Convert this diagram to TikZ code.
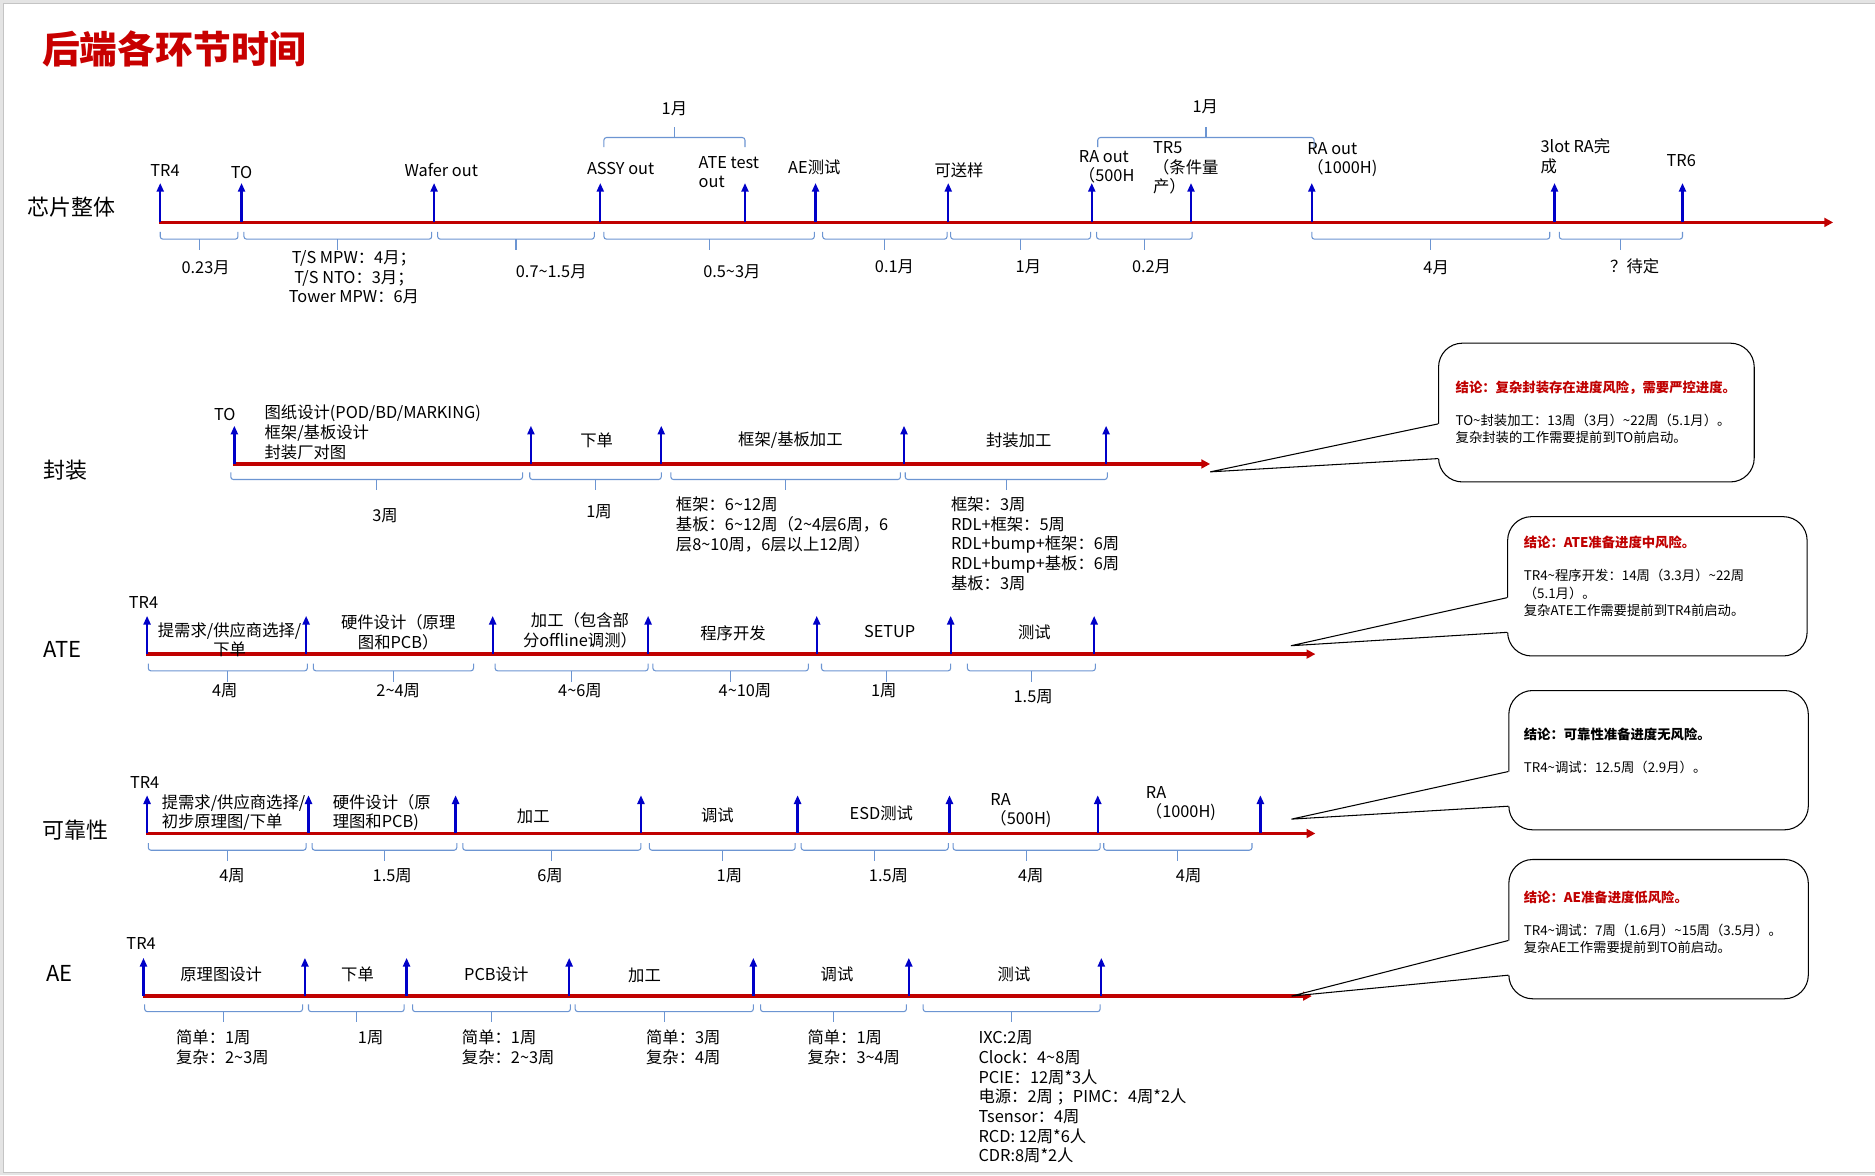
\documentclass[tikz,border=0pt]{standalone}
\usepackage{fontspec}
\setmainfont{Noto Sans CJK SC}
\usepackage{xcolor}
\usepackage{tikz}
\usetikzlibrary{arrows.meta,calc}

\definecolor{tlred}{HTML}{C00000}
\definecolor{msblue}{HTML}{0000C8}
\definecolor{brblue}{HTML}{6C95D2}
\definecolor{ttlred}{HTML}{C80000}
\definecolor{framegray}{HTML}{E4E4E4}
\definecolor{framedark}{HTML}{C4C4C4}

\newcommand{\wave}{\textasciitilde}
% bracket under a span: x1, x2, y of its top ends
\newcommand{\brdown}[3]{%
  \draw[brc] (#1,#3) -- (#1,#3+6) -- (#2,#3+6) -- (#2,#3);
  \draw[brc] ({(#1+#2)/2},#3+6) -- ({(#1+#2)/2},#3+15);}
% bracket over a span: x1, x2, y of its bottom ends
\newcommand{\brup}[3]{%
  \draw[brc] (#1,#3) -- (#1,#3-8) -- (#2,#3-8) -- (#2,#3);
  \draw[brc] ({(#1+#2)/2},#3-8) -- ({(#1+#2)/2},#3-17);}

\begin{document}
\begin{tikzpicture}[x=0.02392cm, y=-0.02392cm,
    tl/.style={draw=tlred, line width=1.9pt, -{Triangle[length=5pt,width=5pt]}},
    ms/.style={draw=msblue, line width=1.3pt, -{Triangle[length=5pt,width=4pt]}},
    brc/.style={draw=brblue, line width=0.6pt, rounded corners=1.5pt},
    lbl/.style={font=\fontsize{9.3}{11.2}\selectfont, inner sep=0pt},
    row/.style={font=\fontsize{12.5}{15}\selectfont, inner sep=0pt},
    callout/.style={draw, fill=white, line width=0.6pt, rounded corners=13.6pt,
                    minimum width=170.5pt, minimum height=79.3pt},
    note/.style={font=\fontsize{7.6}{9.8}\selectfont, inner sep=0pt, align=left, anchor=west},
    ptr/.style={draw, line width=0.6pt}]
  \useasboundingbox (0,0) rectangle (1568,983);
  \fill[framegray] (0,0) rectangle (1568,983);
  \fill[white] (2.5,2.5) rectangle (1568,980.5);
  \draw[framedark, line width=0.4pt] (1568,2.5) -- (2.5,2.5) -- (2.5,980.5) -- (1568,980.5);

  \node[anchor=west, inner sep=0pt, text=ttlred,
        font=\fontsize{21.5}{26}\selectfont\bfseries] (title) at (35,41) {后端各环节时间};

  % chip
  \node[row] (chiplbl) at (60,173) {芯片整体};
  \coordinate (chipS) at (133,186);
  \coordinate (chipE) at (1533,186);
  \draw[tl] (chipS) -- (chipE);
  \foreach \x [count=\i] in {134,202,363,502,623,682,793,913,996,1097,1300,1407} {
    \coordinate (chip\i) at (\x,186);
    \coordinate (chipt\i) at (\x,153);
    \draw[ms] (chip\i) -- (chipt\i);
  }
  \node[lbl] (chiptr4) at (138,143) {TR4};
  \node[lbl] (chipto) at (202,144) {TO};
  \node[lbl] (wafer) at (369,142) {Wafer out};
  \node[lbl] (assy) at (519,141) {ASSY out};
  \node[lbl, anchor=west, align=left] (atetest) at (584,144) {ATE test\\out};
  \node[lbl] (aetest) at (681,140) {AE测试};
  \node[lbl] (sample) at (802,142) {可送样};
  \node[lbl, anchor=west, align=left] (ra500) at (902,139.5) {RA out\\（500H};
  \node[lbl, anchor=west, align=left] (tr5) at (964,140.5) {TR5\\（条件量\\产）};
  \node[lbl, anchor=west, align=left] (ra1000) at (1093,133.5) {RA out\\（1000H)};
  \node[lbl, anchor=west, align=left] (ra3lot) at (1288,130.5) {3lot RA完\\成};
  \node[lbl] (tr6) at (1406,134) {TR6};
  \brup{505}{623}{123}
  \brup{918}{1099}{123}
  \node[lbl] (up1) at (564,91) {1月};
  \node[lbl] (up2) at (1008,89) {1月};
  \brdown{134}{199}{194}
  \brdown{204}{361}{194}
  \brdown{366}{497}{194}
  \brdown{505}{681}{194}
  \brdown{688}{792}{194}
  \brdown{795}{912}{194}
  \brdown{917}{997}{194}
  \brdown{1097}{1296}{194}
  \brdown{1304}{1407}{194}
  \node[lbl] (d1) at (172,224) {0.23月};
  \node[lbl, align=center] (d2) at (296,232) {T/S MPW：4月；\\T/S NTO：3月；\\Tower MPW：6月};
  \node[lbl] (d3) at (461,227) {0.7\wave 1.5月};
  \node[lbl] (d4) at (612,227) {0.5\wave 3月};
  \node[lbl] (d5) at (748,223) {0.1月};
  \node[lbl] (d6) at (860,223) {1月};
  \node[lbl] (d7) at (963,223) {0.2月};
  \node[lbl] (d8) at (1201,224) {4月};
  \node[lbl] (d9) at (1367,223) {？待定};

  % package
  \node[row] (pkglbl) at (55,393) {封装};
  \coordinate (pkgS) at (195,388);
  \coordinate (pkgE) at (1012,388);
  \draw[tl] (pkgS) -- (pkgE);
  \foreach \x [count=\i] in {196,444,553,756,925} {
    \coordinate (pkg\i) at (\x,388);
    \coordinate (pkgt\i) at (\x,356);
    \draw[ms] (pkg\i) -- (pkgt\i);
  }
  \node[lbl] (pkgto) at (188,347) {TO};
  \node[lbl, anchor=west, align=left] (pkgdraw) at (221,361.5) {图纸设计(POD/BD/MARKING)\\框架/基板设计\\封装厂对图};
  \node[lbl] (pkgord) at (499,368) {下单};
  \node[lbl] (pkgsub) at (661,368) {框架/基板加工};
  \node[lbl] (pkgasm) at (852,368) {封装加工};
  \brdown{193}{437}{395}
  \brdown{443}{553}{395}
  \brdown{561}{753}{395}
  \brdown{757}{926}{395}
  \node[lbl] (p1) at (322,431) {3周};
  \node[lbl] (p2) at (501,428) {1周};
  \node[lbl, anchor=west, align=left] (p3) at (565,438.5) {框架：6\wave 12周\\基板：6\wave 12周（2\wave 4层6周，6\\层8\wave 10周，6层以上12周）};
  \node[lbl, anchor=west, align=left] (p4) at (795,454.5) {框架：3周\\RDL+框架：5周\\RDL+bump+框架：6周\\RDL+bump+基板：6周\\基板：3周};

  % ATE
  \node[row] (atelbl) at (52,543) {ATE};
  \coordinate (ateS) at (122,547);
  \coordinate (ateE) at (1100,547);
  \draw[tl] (ateS) -- (ateE);
  \foreach \x [count=\i] in {123,256,412,542,683,795,915} {
    \coordinate (ate\i) at (\x,547);
    \coordinate (atet\i) at (\x,515);
    \draw[ms] (ate\i) -- (atet\i);
  }
  \node[lbl] (atetr4) at (120,504) {TR4};
  \node[lbl, align=center] (atereq) at (192,535) {提需求/供应商选择/\\下单};
  \node[lbl, align=center] (atehw) at (333,529) {硬件设计（原理\\图和PCB）};
  \node[lbl, align=center] (atefab) at (485,527) {加工（包含部\\分offline调测）};
  \node[lbl] (ateprog) at (613,530) {程序开发};
  \node[lbl] (atesetup) at (744,528) {SETUP};
  \node[lbl] (atetst) at (865,529) {测试};
  \brdown{124}{257}{555}
  \brdown{262}{396}{555}
  \brdown{414}{542}{555}
  \brdown{546}{676}{555}
  \brdown{687}{795}{555}
  \brdown{809}{916}{555}
  \node[lbl] (a1) at (188,578) {4周};
  \node[lbl] (a2) at (333,578) {2\wave 4周};
  \node[lbl] (a3) at (485,578) {4\wave 6周};
  \node[lbl] (a4) at (623,578) {4\wave 10周};
  \node[lbl] (a5) at (739,578) {1周};
  \node[lbl] (a6) at (864,583) {1.5周};

  % reliability
  \node[row] (rellbl) at (63,694) {可靠性};
  \coordinate (relS) at (122,697);
  \coordinate (relE) at (1100,697);
  \draw[tl] (relS) -- (relE);
  \foreach \x [count=\i] in {123,258,381,536,667,794,918,1054} {
    \coordinate (rel\i) at (\x,697);
    \coordinate (relt\i) at (\x,665);
    \draw[ms] (rel\i) -- (relt\i);
  }
  \node[lbl] (reltr4) at (121,654) {TR4};
  \node[lbl, anchor=west, align=left] (relreq) at (135,679.5) {提需求/供应商选择/\\初步原理图/下单};
  \node[lbl, anchor=west, align=left] (relhw) at (278,679.5) {硬件设计（原\\理图和PCB)};
  \node[lbl] (relfab) at (446,683) {加工};
  \node[lbl] (reldbg) at (600,682) {调试};
  \node[lbl] (relesd) at (737,680) {ESD测试};
  \node[lbl, anchor=west, align=left] (relra5) at (828,678) {RA\\（500H)};
  \node[lbl, anchor=west, align=left] (relra10) at (958,672) {RA\\（1000H)};
  \brdown{124}{256}{705}
  \brdown{261}{382}{705}
  \brdown{387}{536}{705}
  \brdown{543}{665}{705}
  \brdown{670}{793}{705}
  \brdown{797}{920}{705}
  \brdown{923}{1047}{705}
  \node[lbl] (r1) at (194,732) {4周};
  \node[lbl] (r2) at (328,732) {1.5周};
  \node[lbl] (r3) at (460,732) {6周};
  \node[lbl] (r4) at (610,732) {1周};
  \node[lbl] (r5) at (743,732) {1.5周};
  \node[lbl] (r6) at (862,732) {4周};
  \node[lbl] (r7) at (994,732) {4周};

  % AE
  \node[row] (aelbl) at (50,814) {AE};
  \coordinate (aeS) at (120,833);
  \coordinate (aeE) at (1097,833);
  \draw[tl] (aeS) -- (aeE);
  \foreach \x [count=\i] in {120,255,340,476,630,760,921} {
    \coordinate (ae\i) at (\x,833);
    \coordinate (aet\i) at (\x,801);
    \draw[ms] (ae\i) -- (aet\i);
  }
  \node[lbl] (aetr4) at (118,789) {TR4};
  \node[lbl] (aesch) at (185,815) {原理图设计};
  \node[lbl] (aeord) at (299,815) {下单};
  \node[lbl] (aepcb) at (415,815) {PCB设计};
  \node[lbl] (aefab) at (539,816) {加工};
  \node[lbl] (aedbg) at (700,815) {调试};
  \node[lbl] (aetst) at (848,815) {测试};
  \brdown{121}{253}{840}
  \brdown{258}{338}{840}
  \brdown{345}{477}{840}
  \brdown{481}{630}{840}
  \brdown{636}{758}{840}
  \brdown{772}{920}{840}
  \node[lbl, anchor=west, align=left] (e1) at (147,876) {简单：1周\\复杂：2\wave 3周};
  \node[lbl] (e2) at (310,868) {1周};
  \node[lbl, anchor=west, align=left] (e3) at (386,876) {简单：1周\\复杂：2\wave 3周};
  \node[lbl, anchor=west, align=left] (e4) at (540,876) {简单：3周\\复杂：4周};
  \node[lbl, anchor=west, align=left] (e5) at (675,876) {简单：1周\\复杂：3\wave 4周};
  \node[lbl, anchor=west, align=left] (e6) at (818,917.5) {IXC:2周\\Clock：4\wave 8周\\PCIE：12周*3人\\电源：2周 ；PIMC：4周*2人\\Tsensor：4周\\RCD: 12周*6人\\CDR:8周*2人};

  % conclusions
  \node[callout, minimum width=179.7pt, minimum height=79pt] (box1) at (1335,345) {};
  \node[callout] (box2) at (1386,490.3) {};
  \node[callout] (box3) at (1387,635.7) {};
  \node[callout] (box4) at (1387,777) {};
  \coordinate (tip1) at (1012,394.6);
  \coordinate (tip2) at (1079.5,540);
  \coordinate (tip3) at (1080,685);
  \coordinate (tip4) at (1080,833);
  \foreach \b in {1,2,3,4} {
    \coordinate (ba\b) at ($(box\b.west)+(0,9.5)$);
    \coordinate (bb\b) at ($(box\b.west)+(0,38.5)$);
    \fill[white] (ba\b) -- (tip\b) -- (bb\b) -- ($(bb\b)+(2,0)$) -- ($(ba\b)+(2,0)$) -- cycle;
    \draw[ptr] (ba\b) -- (tip\b) -- (bb\b);
  }
  \node[note] (txt1) at (1217,345) {{\bfseries\color{tlred}结论：复杂封装存在进度风险，需要严控进度。}\\[9pt]TO\wave 封装加工：13周（3月）\wave 22周（5.1月）。\\复杂封装的工作需要提前到TO前启动。};
  \node[note] (txt2) at (1274,482) {{\bfseries\color{tlred}结论：ATE准备进度中风险。}\\[9pt]TR4\wave 程序开发：14周（3.3月）\wave 22周\\（5.1月）。\\复杂ATE工作需要提前到TR4前启动。};
  \node[note] (txt3) at (1274,628) {{\bfseries 结论：可靠性准备进度无风险。}\\[9pt]TR4\wave 调试：12.5周（2.9月）。};
  \node[note] (txt4) at (1274,771) {{\bfseries\color{tlred}结论：AE准备进度低风险。}\\[9pt]TR4\wave 调试：7周（1.6月）\wave 15周（3.5月）。\\复杂AE工作需要提前到TO前启动。};
\end{tikzpicture}
\end{document}
